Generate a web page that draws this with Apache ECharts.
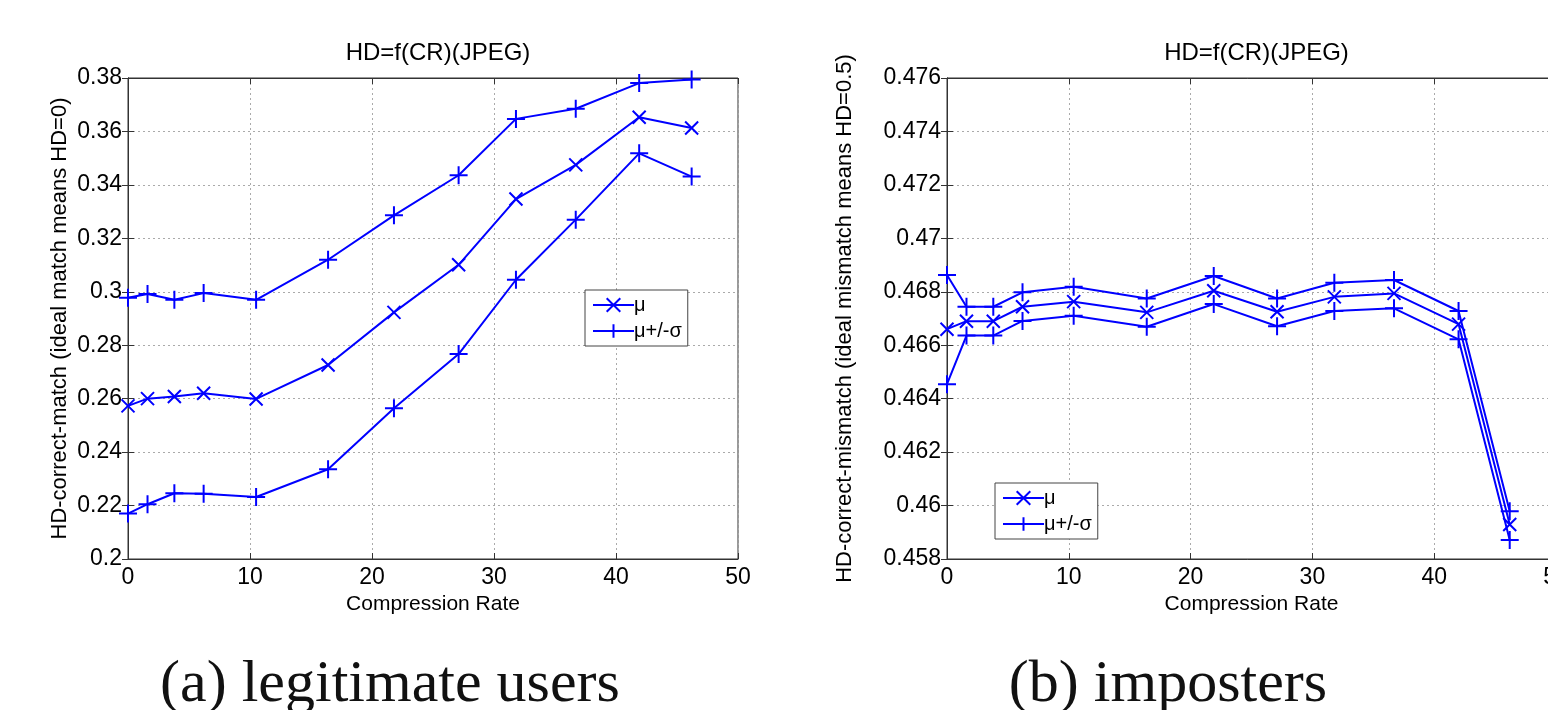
<!DOCTYPE html>
<html>
<head>
<meta charset="utf-8">
<script src="https://cdn.jsdelivr.net/npm/echarts@6/dist/echarts.min.js"></script>
<style>
  html, body { margin: 0; padding: 0; background: #fff; }
  #chart { width: 1548px; height: 710px; }
</style>
</head>
<body>
<div id="chart"></div>
<script>
// (a) legitimate users
const rateLeft = [0, 1.6, 3.8, 6.2, 10.5, 16.4, 21.8, 27.1, 31.8, 36.7, 41.9, 46.2];
const muLeft = [0.2573, 0.2600, 0.2608, 0.2620, 0.2599, 0.2726, 0.2923, 0.3101, 0.3347, 0.3475, 0.3653, 0.3613];
const upLeft = [0.2978, 0.2992, 0.2970, 0.2995, 0.2970, 0.3120, 0.3286, 0.3436, 0.3647, 0.3685, 0.3781, 0.3794];
const loLeft = [0.2170, 0.2205, 0.2246, 0.2244, 0.2232, 0.2336, 0.2564, 0.2767, 0.3045, 0.3270, 0.3518, 0.3431];

// (b) imposters
const rateRight = [0, 1.6, 3.8, 6.2, 10.4, 16.4, 21.9, 27.1, 31.8, 36.7, 42.0, 46.2];
const muRight = [0.46660, 0.46690, 0.46690, 0.46744, 0.46763, 0.46723, 0.46804, 0.46725, 0.46781, 0.46794, 0.46679, 0.45929];
const upRight = [0.46863, 0.46744, 0.46744, 0.46798, 0.46819, 0.46775, 0.46859, 0.46775, 0.46834, 0.46844, 0.46728, 0.45979];
const loRight = [0.46454, 0.46636, 0.46636, 0.46691, 0.46710, 0.46669, 0.46754, 0.46671, 0.46728, 0.46738, 0.46622, 0.45871];

const legendNames = ['\u03bc', '\u03bc+/-\u03c3'];
const panelTitle = 'HD=f(CR)(JPEG)';
const xName = 'Compression Rate';
const yNameLeft = 'HD-correct-match (ideal match means HD=0)';
const yNameRight = 'HD-correct-mismatch (ideal mismatch means HD=0.5)';
const captions = ['(a) legitimate users', '(b) imposters'];

class CompressionFigure {
    constructor(el) {
        this.chart = echarts.init(el);
        this.blue = '#0000ff';
        this.font = 'Liberation Sans';
        this.plus = 'path://M0,8L16,8M8,0L8,16';
        this.cross = 'path://M0,0L16,16M16,0L0,16';
        this.panels = [
            { left: 128, width: 610, ymin: 0.2, ymax: 0.38, step: 0.02, yName: yNameLeft, nameGap: 57,
              xs: rateLeft, mu: muLeft, up: upLeft, lo: loLeft, legend: { left: 585, top: 290 }, caption: 390 },
            { left: 947, width: 609, ymin: 0.458, ymax: 0.476, step: 0.002, yName: yNameRight, nameGap: 91,
              xs: rateRight, mu: muRight, up: upRight, lo: loRight, legend: { left: 995, top: 483 }, caption: 1168 }
        ];
        this.render();
    }

    pairs(xs, ys) {
        return xs.map((x, i) => [x, ys[i]]);
    }

    lineSeries(name, data, idx, symbol, size) {
        return {
            name: name,
            type: 'line',
            xAxisIndex: idx * 2,
            yAxisIndex: idx * 2,
            data: data,
            symbol: symbol,
            symbolSize: size,
            showAllSymbol: true,
            animation: false,
            itemStyle: { color: this.blue, borderColor: this.blue, borderWidth: 2 },
            lineStyle: { color: this.blue, width: 2 },
            emphasis: { disabled: true }
        };
    }

    render() {
        const grid = [], xAxis = [], yAxis = [], series = [], title = [], legend = [], graphic = [];
        const axisLine = { show: true, lineStyle: { color: '#333', width: 1 } };
        const tick = { inside: true, length: 6, lineStyle: { color: '#333' } };
        const label = { color: '#000', fontSize: 23, fontFamily: this.font };
        const nameStyle = { color: '#000', fontSize: 22, fontFamily: this.font };
        const split = { show: true, lineStyle: { color: '#aaa', type: [2, 3], width: 1 } };

        this.panels.forEach((p, i) => {
            grid.push({ left: p.left, top: 78, width: p.width, height: 481, show: true,
                        outerBoundsMode: 'none', containLabel: false,
                        borderColor: '#333', borderWidth: 1, backgroundColor: '#fff' });

            // bottom + top x axes (box ticks)
            xAxis.push({
                gridIndex: i, type: 'value', min: 0, max: 50, interval: 10,
                name: xName, nameLocation: 'middle', nameGap: 35,
                nameTextStyle: Object.assign({}, nameStyle, { fontSize: 21 }),
                axisLine: axisLine, axisTick: tick,
                axisLabel: Object.assign({ margin: 7 }, label),
                splitLine: split
            });
            xAxis.push({
                gridIndex: i, type: 'value', min: 0, max: 50, interval: 10, position: 'top',
                axisLine: axisLine, axisTick: tick, axisLabel: { show: false }, splitLine: { show: false }
            });

            yAxis.push({
                gridIndex: i, type: 'value', min: p.ymin, max: p.ymax, interval: p.step,
                name: p.yName, nameLocation: 'middle', nameGap: p.nameGap, nameTextStyle: nameStyle,
                axisLine: axisLine, axisTick: tick,
                axisLabel: Object.assign({ margin: 6 }, label),
                splitLine: split
            });
            yAxis.push({
                gridIndex: i, type: 'value', min: p.ymin, max: p.ymax, interval: p.step, position: 'right',
                axisLine: axisLine, axisTick: tick, axisLabel: { show: false }, splitLine: { show: false }
            });

            series.push(this.lineSeries(legendNames[0], this.pairs(p.xs, p.mu), i, this.cross, 13));
            series.push(this.lineSeries(legendNames[1], this.pairs(p.xs, p.up), i, this.plus, 18));
            series.push(this.lineSeries(legendNames[1], this.pairs(p.xs, p.lo), i, this.plus, 18));

            title.push({
                text: panelTitle, left: p.left + p.width / 2, top: 36, textAlign: 'center',
                textStyle: { color: '#000', fontSize: 24, fontWeight: 'normal', fontFamily: this.font }
            });

            legend.push({
                data: legendNames, orient: 'vertical', left: p.legend.left, top: p.legend.top,
                itemWidth: 41, itemHeight: 17, itemGap: 6, padding: [5, 6, 5, 7],
                borderColor: '#444', borderWidth: 1, backgroundColor: '#fff',
                selectedMode: false,
                textStyle: { color: '#000', fontSize: 20, fontFamily: this.font, padding: [0, 0, 0, -5] }
            });

            graphic.push({
                type: 'text', x: p.caption, y: 685,
                style: { text: captions[i], fill: '#111', fontSize: 60, fontFamily: 'Liberation Serif',
                         align: 'center', verticalAlign: 'middle' }
            });
        });

        this.chart.setOption({
            backgroundColor: '#fff',
            animation: false,
            title: title,
            legend: legend,
            grid: grid,
            xAxis: xAxis,
            yAxis: yAxis,
            series: series,
            graphic: graphic
        });
    }
}

const figure = new CompressionFigure(document.getElementById('chart'));
</script>
</body>
</html>
